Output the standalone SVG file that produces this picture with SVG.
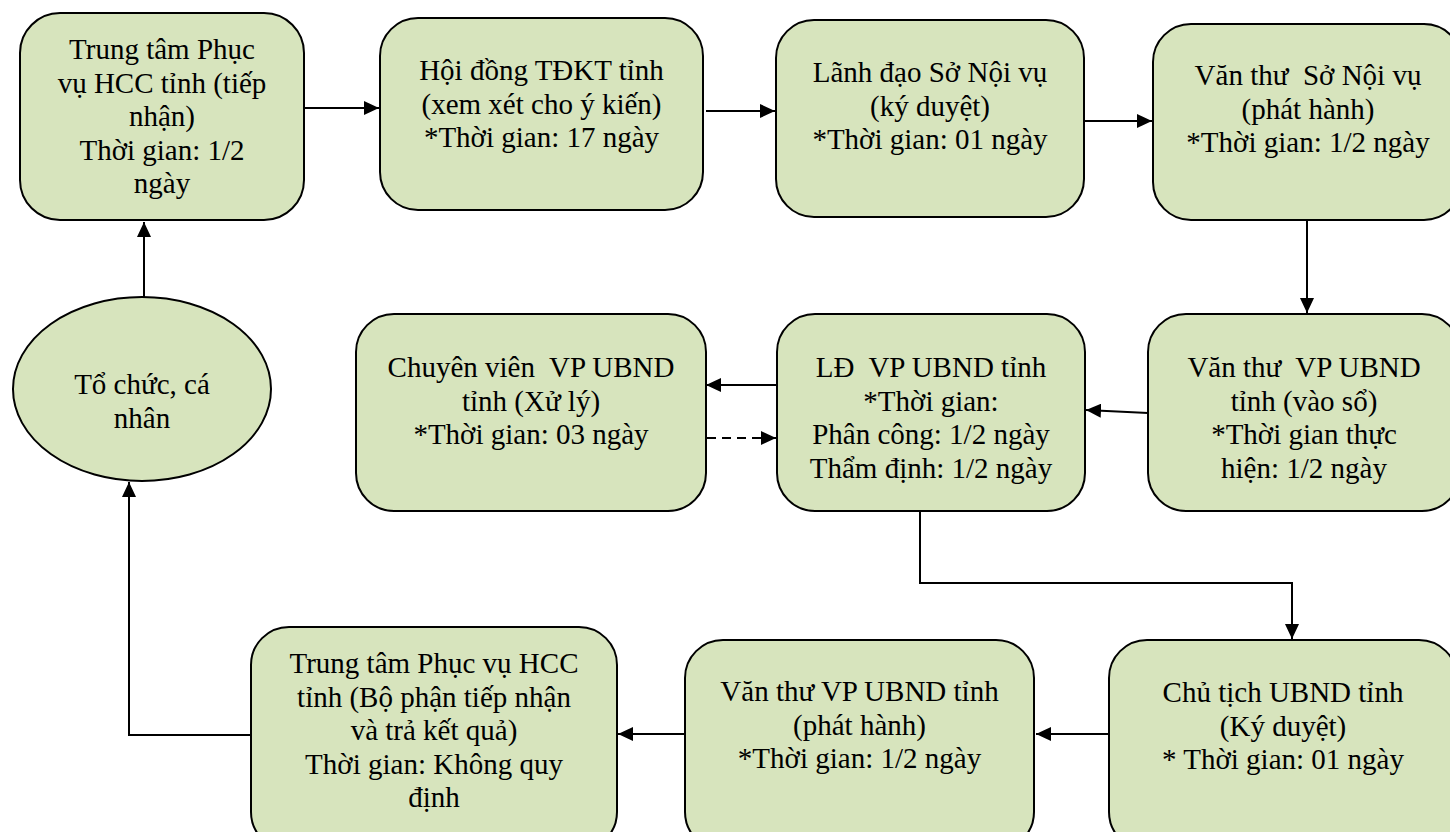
<svg xmlns="http://www.w3.org/2000/svg" width="1450" height="832" viewBox="0 0 1450 832">
<style>
.box{fill:#D7E4BD;stroke:#000;stroke-width:2}
.t{font-family:"Liberation Serif","Times New Roman",serif;font-size:29px;fill:#000;text-anchor:middle}
.c{fill:none;stroke:#000;stroke-width:2}
.d{stroke-dasharray:9 6}
</style>
<defs>
<marker id="ah" markerUnits="userSpaceOnUse" markerWidth="16" markerHeight="14" refX="15" refY="7" orient="auto">
<path d="M0,0 L15,7 L0,14 z" fill="#000"/>
</marker>
</defs>
<rect width="1450" height="832" fill="#fff"/>
<g id="connectors">
<path class="c" d="M305,108 L379,108" marker-end="url(#ah)"/>
<path class="c" d="M706,111 L775,111" marker-end="url(#ah)"/>
<path class="c" d="M1085,121 L1152,121" marker-end="url(#ah)"/>
<path class="c" d="M1307,221 L1307,313" marker-end="url(#ah)"/>
<path class="c" d="M1148,413 L1086,410" marker-end="url(#ah)"/>
<path class="c" d="M777,385 L706,385" marker-end="url(#ah)"/>
<path class="c d" d="M707,438 L776,438" marker-end="url(#ah)"/>
<path class="c" d="M920,512 L920,583 L1292,583 L1292,639" marker-end="url(#ah)"/>
<path class="c" d="M1109,734 L1036,734" marker-end="url(#ah)"/>
<path class="c" d="M685,734 L618,734" marker-end="url(#ah)"/>
<path class="c" d="M251,735 L129,735 L129,482" marker-end="url(#ah)"/>
<path class="c" d="M144,297 L144,222" marker-end="url(#ah)"/>
</g>
<g id="n1">
<rect class="box" x="20" y="13" width="284" height="207" rx="40"/>
<text class="t"><tspan x="162" y="59">Trung tâm Phục</tspan><tspan x="162" y="92.5">vụ HCC tỉnh (tiếp</tspan><tspan x="162" y="126">nhận)</tspan><tspan x="162" y="159.5">Thời gian: 1/2</tspan><tspan x="162" y="193">ngày</tspan></text>
</g>
<g id="n2">
<rect class="box" x="380" y="18" width="323" height="192" rx="38"/>
<text class="t"><tspan x="541.5" y="80">Hội đồng TĐKT tỉnh</tspan><tspan x="541.5" y="113.5">(xem xét cho ý kiến)</tspan><tspan x="541.5" y="147">*Thời gian: 17 ngày</tspan></text>
</g>
<g id="n3">
<rect class="box" x="776" y="20" width="308" height="197" rx="38"/>
<text class="t"><tspan x="930" y="82">Lãnh đạo Sở Nội vụ</tspan><tspan x="930" y="115.5">(ký duyệt)</tspan><tspan x="930" y="149">*Thời gian: 01 ngày</tspan></text>
</g>
<g id="n4">
<rect class="box" x="1153" y="24" width="309" height="196" rx="38"/>
<text class="t" xml:space="preserve"><tspan x="1308" y="85">Văn thư  Sở Nội vụ</tspan><tspan x="1308" y="118.5">(phát hành)</tspan><tspan x="1308" y="152">*Thời gian: 1/2 ngày</tspan></text>
</g>
<g id="n5">
<rect class="box" x="1148" y="314" width="312" height="197" rx="38"/>
<text class="t" xml:space="preserve"><tspan x="1304" y="377">Văn thư  VP UBND</tspan><tspan x="1304" y="410.5">tỉnh (vào sổ)</tspan><tspan x="1304" y="444">*Thời gian thực</tspan><tspan x="1304" y="477.5">hiện: 1/2 ngày</tspan></text>
</g>
<g id="n6">
<rect class="box" x="777" y="314" width="308" height="197" rx="38"/>
<text class="t" xml:space="preserve"><tspan x="931" y="377">LĐ  VP UBND tỉnh</tspan><tspan x="931" y="410.5">*Thời gian:</tspan><tspan x="931" y="444">Phân công: 1/2 ngày</tspan><tspan x="931" y="477.5">Thẩm định: 1/2 ngày</tspan></text>
</g>
<g id="n7">
<rect class="box" x="356" y="314" width="350" height="197" rx="38"/>
<text class="t" xml:space="preserve"><tspan x="531" y="377">Chuyên viên  VP UBND</tspan><tspan x="531" y="410.5">tỉnh (Xử lý)</tspan><tspan x="531" y="444">*Thời gian: 03 ngày</tspan></text>
</g>
<g id="n8">
<ellipse class="box" cx="142" cy="389" rx="129" ry="92"/>
<text class="t"><tspan x="142" y="394">Tổ chức, cá</tspan><tspan x="142" y="427.5">nhân</tspan></text>
</g>
<g id="n9">
<rect class="box" x="1109" y="640" width="348" height="210" rx="38"/>
<text class="t"><tspan x="1283" y="702">Chủ tịch UBND tỉnh</tspan><tspan x="1283" y="735.5">(Ký duyệt)</tspan><tspan x="1283" y="769">* Thời gian: 01 ngày</tspan></text>
</g>
<g id="n10">
<rect class="box" x="685" y="640" width="349" height="210" rx="38"/>
<text class="t"><tspan x="859.5" y="701">Văn thư VP UBND tỉnh</tspan><tspan x="859.5" y="734.5">(phát hành)</tspan><tspan x="859.5" y="768">*Thời gian: 1/2 ngày</tspan></text>
</g>
<g id="n11">
<rect class="box" x="251" y="627" width="366" height="223" rx="38"/>
<text class="t"><tspan x="434" y="673">Trung tâm Phục vụ HCC</tspan><tspan x="434" y="706.5">tỉnh (Bộ phận tiếp nhận</tspan><tspan x="434" y="740">và trả kết quả)</tspan><tspan x="434" y="773.5">Thời gian: Không quy</tspan><tspan x="434" y="807">định</tspan></text>
</g>
</svg>
